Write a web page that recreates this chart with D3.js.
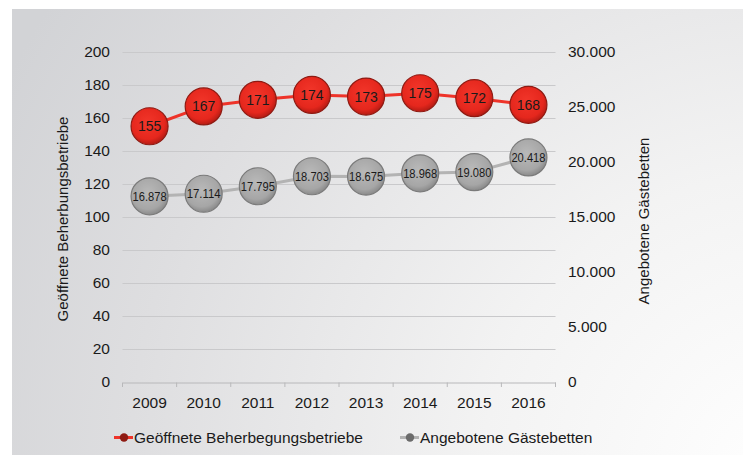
<!DOCTYPE html>
<html><head><meta charset="utf-8">
<script src="https://cdn.jsdelivr.net/npm/d3@7"></script>
<style>
html,body{margin:0;padding:0;background:#fff;}
svg{display:block;font-family:"Liberation Sans",Arial,Helvetica,sans-serif;}
</style></head>
<body>
<svg id="chart" width="743" height="455"></svg>
<script>
const years = ["2009","2010","2011","2012","2013","2014","2015","2016"];
const betriebe = [155,167,171,174,173,175,172,168];
const betten = [16878,17114,17795,18703,18675,18968,19080,20418];
const leftTicks = [0,20,40,60,80,100,120,140,160,180,200];
const rightTicks = [0,5000,10000,15000,20000,25000,30000];
const seriesNames = ["Geöffnete Beherbegungsbetriebe","Angebotene Gästebetten"];
const leftTitle = "Geöffnete Beherbungsbetriebe";
const rightTitle = "Angebotene Gästebetten";

const FF = "'Liberation Sans', Arial, sans-serif";
const svg = d3.select("#chart");
const defs = svg.append("defs");
const bg = defs.append("radialGradient").attr("id","bg")
  .attr("gradientUnits","userSpaceOnUse").attr("cx",790).attr("cy",480).attr("r",880);
bg.append("stop").attr("offset","0").attr("stop-color","#ffffff");
bg.append("stop").attr("offset","0.35").attr("stop-color","#f3f3f3");
bg.append("stop").attr("offset","0.75").attr("stop-color","#dedee0");
bg.append("stop").attr("offset","1").attr("stop-color","#d2d3d6");

const rg = defs.append("radialGradient").attr("id","redG").attr("cx","0.45").attr("cy","0.4").attr("r","0.6");
rg.append("stop").attr("offset","0").attr("stop-color","#f2362a");
rg.append("stop").attr("offset","0.75").attr("stop-color","#e5271d");
rg.append("stop").attr("offset","1").attr("stop-color","#b51c14");
const gg = defs.append("radialGradient").attr("id","grayG").attr("cx","0.45").attr("cy","0.4").attr("r","0.6");
gg.append("stop").attr("offset","0").attr("stop-color","#b9b9b9");
gg.append("stop").attr("offset","0.75").attr("stop-color","#a6a6a6");
gg.append("stop").attr("offset","1").attr("stop-color","#8a8a8a");

svg.append("rect").attr("x",12).attr("y",9).attr("width",731).attr("height",446).attr("fill","url(#bg)");

const x = d3.scaleBand().domain(years).range([122.5,555.5]);
const yL = d3.scaleLinear().domain([0,200]).range([382,52]);
const yR = d3.scaleLinear().domain([0,30000]).range([382,52]);
const fmt = d3.formatLocale({decimal:",",thousands:".",grouping:[3],currency:["","€"]}).format(",");

// gridlines
svg.append("g").selectAll("line").data(leftTicks.filter(d=>d>0)).join("line")
  .attr("x1",122.5).attr("x2",555.5)
  .attr("y1",d=>Math.round(yL(d))+0.5).attr("y2",d=>Math.round(yL(d))+0.5)
  .attr("stroke","#c9c9cb").attr("stroke-width",1);

// x axis
const xa = svg.append("g").attr("transform","translate(0,382.5)")
  .call(d3.axisBottom(x).tickSize(0).tickPadding(14));
xa.select(".domain").attr("stroke","#b8b8ba");
xa.selectAll("text").attr("font-size",15.5).attr("fill","#1a1a1a").attr("font-family",FF);
svg.append("g").selectAll("line").data(years.concat(["end"])).join("line")
  .attr("x1",(d,i)=>122.5+i*x.bandwidth()).attr("x2",(d,i)=>122.5+i*x.bandwidth())
  .attr("y1",382.5).attr("y2",387).attr("stroke","#b8b8ba");

// left axis
const la = svg.append("g").attr("transform","translate(110,0)")
  .call(d3.axisLeft(yL).tickValues(leftTicks).tickSize(0).tickPadding(0));
la.select(".domain").remove();
la.selectAll("text").attr("font-size",15.5).attr("fill","#1a1a1a").attr("font-family",FF);

// right axis
const ra = svg.append("g").attr("transform","translate(568,0)")
  .call(d3.axisRight(yR).tickValues(rightTicks).tickSize(0).tickPadding(0).tickFormat(fmt));
ra.select(".domain").remove();
ra.selectAll("text").attr("font-size",15.5).attr("fill","#1a1a1a").attr("font-family",FF);

// axis titles
svg.append("text").attr("transform","translate(68,219) rotate(-90)")
  .attr("text-anchor","middle").attr("font-size",15).attr("fill","#1a1a1a").attr("font-family",FF).text(leftTitle);
svg.append("text").attr("transform","translate(649,221) rotate(-90)")
  .attr("text-anchor","middle").attr("font-size",15).attr("fill","#1a1a1a").attr("font-family",FF).text(rightTitle);

const cx = d => x(d) + x.bandwidth()/2;

// gray series
const grayData = years.map((y,i)=>({y,v:betten[i]}));
svg.append("path").datum(grayData)
  .attr("d",d3.line().x(d=>cx(d.y)).y(d=>yR(d.v)))
  .attr("fill","none").attr("stroke","#b3b3b3").attr("stroke-width",3);
const gG = svg.append("g").selectAll("g").data(grayData).join("g")
  .attr("transform",d=>`translate(${cx(d.y)},${yR(d.v)})`);
gG.append("circle").attr("r",18.5).attr("fill","url(#grayG)").attr("stroke","#7a7a7a").attr("stroke-width",1.2);
gG.append("text").attr("text-anchor","middle").attr("dy","0.36em").attr("font-size",13)
  .attr("fill","#1a1a1a").attr("font-family",FF).attr("textLength",34).attr("lengthAdjust","spacingAndGlyphs").text(d=>fmt(d.v));

// red series
const redData = years.map((y,i)=>({y,v:betriebe[i]}));
svg.append("path").datum(redData)
  .attr("d",d3.line().x(d=>cx(d.y)).y(d=>yL(d.v)))
  .attr("fill","none").attr("stroke","#ee3329").attr("stroke-width",3);
const rG = svg.append("g").selectAll("g").data(redData).join("g")
  .attr("transform",d=>`translate(${cx(d.y)},${yL(d.v)})`);
rG.append("circle").attr("r",18.5).attr("fill","url(#redG)").attr("stroke","#8e1a12").attr("stroke-width",1.2);
rG.append("text").attr("text-anchor","middle").attr("dy","0.36em").attr("font-size",14)
  .attr("fill","#1a1a1a").attr("font-family",FF).text(d=>d.v);

// legend
const leg = svg.append("g");
const items = [
  {name:seriesNames[0], x0:114, line:"#ee3329", dot:"#8e1a12"},
  {name:seriesNames[1], x0:400, line:"#b3b3b3", dot:"#6b6b6b"}
];
items.forEach(it=>{
  leg.append("line").attr("x1",it.x0).attr("x2",it.x0+19).attr("y1",437.5).attr("y2",437.5)
    .attr("stroke",it.line).attr("stroke-width",3);
  leg.append("circle").attr("cx",it.x0+10).attr("cy",437.5).attr("r",4.2).attr("fill",it.dot);
  leg.append("text").attr("x",it.x0+20).attr("y",437.5).attr("dy","0.36em")
    .attr("font-size",15.5).attr("fill","#1a1a1a").attr("font-family",FF).text(it.name);
});
</script>
</body></html>
